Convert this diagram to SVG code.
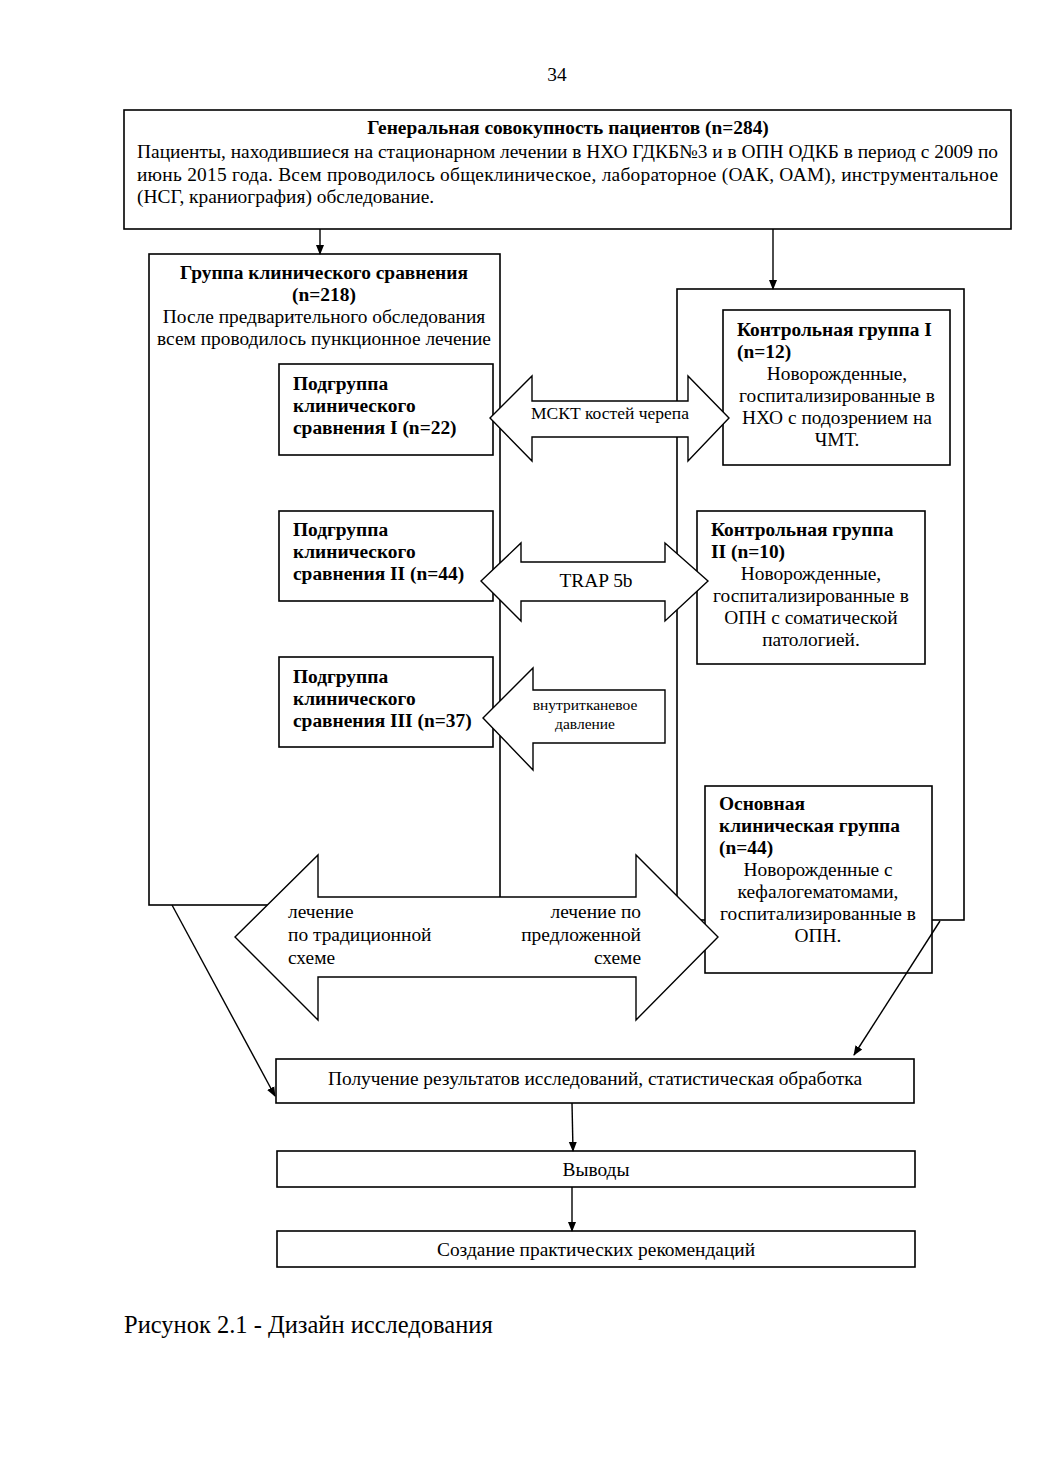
<svg xmlns="http://www.w3.org/2000/svg" width="1040" height="1471" viewBox="0 0 1040 1471">
<defs>
<style>
text{font-family:"Liberation Serif","Times New Roman",serif;font-size:19.4px;fill:#000}
.b{font-weight:bold}
.c{text-anchor:middle}
.r{text-anchor:end}
.box{fill:#fff;stroke:#000;stroke-width:1.6}
.ln{fill:none;stroke:#000;stroke-width:1.4}
.ar{fill:#fff;stroke:#000;stroke-width:1.4;stroke-linejoin:miter}
</style>
<marker id="ah" markerWidth="10" markerHeight="10" refX="9" refY="5" orient="auto" markerUnits="userSpaceOnUse">
<path d="M0,1 L10,5 L0,9 Z" fill="#000"/>
</marker>
</defs>
<rect width="1040" height="1471" fill="#fff"/>
<text x="557" y="81" class="c" style="font-size:19.4px">34</text>

<g id="general">
<rect class="box" x="124" y="110" width="887" height="119"/>
<text x="568" y="134" class="c b">Генеральная совокупность пациентов (n=284)</text>
<text x="137" y="158" textLength="861" lengthAdjust="spacing">Пациенты, находившиеся на стационарном лечении в НХО ГДКБ№3 и в ОПН ОДКБ в период с 2009 по</text>
<text x="137" y="181" textLength="861" lengthAdjust="spacing">июнь 2015 года. Всем проводилось общеклиническое, лабораторное (ОАК, ОАМ), инструментальное</text>
<text x="137" y="203">(НСГ, краниография) обследование.</text>
</g>

<g id="clinical-group">
<rect class="box" x="149" y="254" width="351" height="651"/>
<text x="324" y="279" class="c b">Группа клинического сравнения</text>
<text x="324" y="301" class="c b">(n=218)</text>
<text x="324" y="323" class="c">После предварительного обследования</text>
<text x="324" y="345" class="c">всем проводилось пункционное лечение</text>
</g>

<g id="control-group-outer">
<rect class="box" x="677" y="289" width="287" height="631"/>
</g>

<g id="subgroup-1">
<rect class="box" x="279" y="364" width="214" height="91"/>
<text x="293" y="390" class="b">Подгруппа</text>
<text x="293" y="412" class="b">клинического</text>
<text x="293" y="434" class="b">сравнения I (n=22)</text>
</g>

<g id="subgroup-2">
<rect class="box" x="279" y="511" width="214" height="90"/>
<text x="293" y="536" class="b">Подгруппа</text>
<text x="293" y="558" class="b">клинического</text>
<text x="293" y="580" class="b">сравнения II (n=44)</text>
</g>

<g id="subgroup-3">
<rect class="box" x="279" y="657" width="214" height="90"/>
<text x="293" y="683" class="b">Подгруппа</text>
<text x="293" y="705" class="b">клинического</text>
<text x="293" y="727" class="b">сравнения III (n=37)</text>
</g>

<g id="control-1">
<rect class="box" x="723" y="310" width="227" height="155"/>
<text x="737" y="336" class="b">Контрольная группа I</text>
<text x="737" y="358" class="b">(n=12)</text>
<text x="837" y="380" class="c">Новорожденные,</text>
<text x="837" y="402" class="c">госпитализированные в</text>
<text x="837" y="424" class="c">НХО с подозрением на</text>
<text x="837" y="446" class="c">ЧМТ.</text>
</g>

<g id="control-2">
<rect class="box" x="697" y="511" width="228" height="153"/>
<text x="711" y="536" class="b">Контрольная группа</text>
<text x="711" y="558" class="b">II (n=10)</text>
<text x="811" y="580" class="c">Новорожденные,</text>
<text x="811" y="602" class="c">госпитализированные в</text>
<text x="811" y="624" class="c">ОПН с соматической</text>
<text x="811" y="646" class="c">патологией.</text>
</g>

<g id="main-group">
<rect class="box" x="705" y="786" width="227" height="187"/>
<text x="719" y="810" class="b">Основная</text>
<text x="719" y="832" class="b">клиническая группа</text>
<text x="719" y="854" class="b">(n=44)</text>
<text x="818" y="876" class="c">Новорожденные с</text>
<text x="818" y="898" class="c">кефалогематомами,</text>
<text x="818" y="920" class="c">госпитализированные в</text>
<text x="818" y="942" class="c">ОПН.</text>
</g>

<g id="arrow-msct">
<path class="ar" d="M490,418 L532,376 L532,401 L688,401 L688,376 L729,418 L688,461 L688,437 L532,437 L532,461 Z"/>
<text x="610" y="419" class="c" style="font-size:17.5px">МСКТ костей черепа</text>
</g>

<g id="arrow-trap">
<path class="ar" d="M481,581 L521,543 L521,562 L665,562 L665,543 L708,581 L665,621 L665,601 L521,601 L521,621 Z"/>
<text x="596" y="587" class="c">TRAP 5b</text>
</g>

<g id="arrow-pressure">
<path class="ar" d="M483,718 L533,668 L533,690 L665,690 L665,743 L533,743 L533,770 Z"/>
<text x="585" y="710" class="c" style="font-size:15.5px">внутритканевое</text>
<text x="585" y="729" class="c" style="font-size:15.5px">давление</text>
</g>

<g id="arrow-treatment">
<path class="ar" d="M235,937 L318,855 L318,897 L636,897 L636,855 L718,937 L636,1020 L636,977 L318,977 L318,1020 Z"/>
<text x="288" y="918">лечение</text>
<text x="288" y="941">по традиционной</text>
<text x="288" y="964">схеме</text>
<text x="641" y="918" class="r">лечение по</text>
<text x="641" y="941" class="r">предложенной</text>
<text x="641" y="964" class="r">схеме</text>
</g>

<g id="results">
<rect class="box" x="276" y="1059" width="638" height="44"/>
<text x="595" y="1085" class="c">Получение результатов исследований, статистическая обработка</text>
</g>

<g id="conclusions">
<rect class="box" x="277" y="1151" width="638" height="36"/>
<text x="596" y="1176" class="c">Выводы</text>
</g>

<g id="recommendations">
<rect class="box" x="277" y="1231" width="638" height="36"/>
<text x="596" y="1256" class="c">Создание практических рекомендаций</text>
</g>

<g id="connectors">
<line class="ln" x1="320" y1="229" x2="320" y2="254" marker-end="url(#ah)"/>
<line class="ln" x1="773" y1="229" x2="773" y2="289" marker-end="url(#ah)"/>
<line class="ln" x1="172" y1="905" x2="275" y2="1096" marker-end="url(#ah)"/>
<line class="ln" x1="940" y1="921" x2="854" y2="1055" marker-end="url(#ah)"/>
<line class="ln" x1="572" y1="1103" x2="573" y2="1151" marker-end="url(#ah)"/>
<line class="ln" x1="572" y1="1187" x2="572" y2="1231" marker-end="url(#ah)"/>
</g>

<text x="124" y="1333" style="font-size:24.5px">Рисунок 2.1 - Дизайн исследования</text>
</svg>
